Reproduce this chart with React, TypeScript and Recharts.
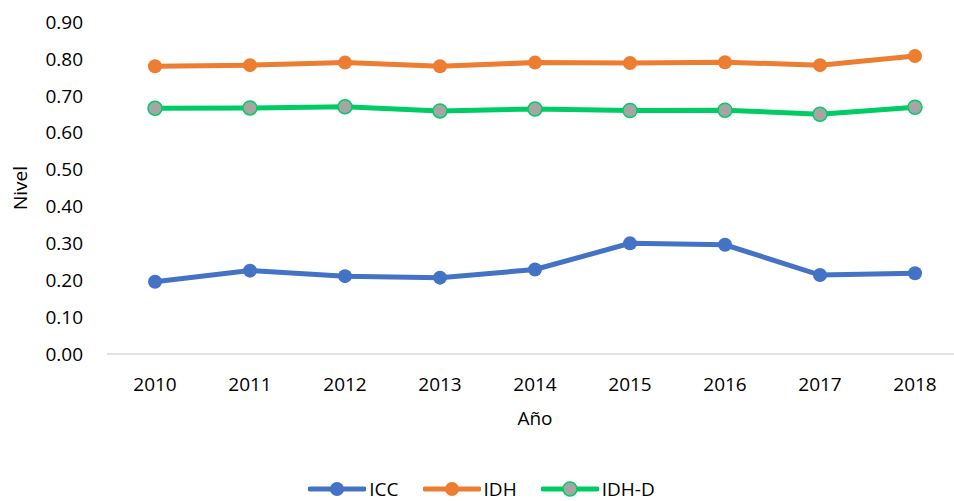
import { LineChart, Line, XAxis, YAxis, Legend } from "recharts";

const years = ["2010", "2011", "2012", "2013", "2014", "2015", "2016", "2017", "2018"];
const icc = [0.196, 0.226, 0.211, 0.207, 0.229, 0.3, 0.296, 0.214, 0.219];
const idh = [0.78, 0.783, 0.79, 0.78, 0.79, 0.789, 0.791, 0.783, 0.808];
const idhD = [0.666, 0.667, 0.67, 0.659, 0.664, 0.66, 0.661, 0.65, 0.669];
const yTicks = [0, 0.1, 0.2, 0.3, 0.4, 0.5, 0.6, 0.7, 0.8, 0.9];

const data = years.map((year, i) => ({
  year,
  ICC: icc[i],
  IDH: idh[i],
  "IDH-D": idhD[i]
}));

const FONT = "'Open Sans', sans-serif";

// eslint-disable-next-line @typescript-eslint/no-explicit-any
const renderLegend = (props: any) => {
  const items = props.payload || [];
  return (
    <div style={{ display: "flex", justifyContent: "center", alignItems: "center", gap: 24, height: 24, lineHeight: "24px", fontFamily: FONT, fontSize: 19, color: "#000" }}>
      {/* eslint-disable-next-line @typescript-eslint/no-explicit-any */}
      {items.map((item: any) => {
        const isD = item.value === "IDH-D";
        return (
          <div key={item.value} style={{ display: "flex", alignItems: "center" }}>
            <svg width={58} height={18} style={{ marginRight: 3 }}>
              <line x1={2} y1={9} x2={56} y2={9} stroke={item.color} strokeWidth={5} strokeLinecap="round" />
              <circle cx={29} cy={9} r={7} fill={isD ? "#A5A5A5" : item.color} stroke={item.color} strokeWidth={isD ? 1.5 : 0} />
            </svg>
            <span>{item.value}</span>
          </div>
        );
      })}
    </div>
  );
};

export default function App() {
  return (
    <div style={{ position: "absolute", left: 0, top: 0, width: 954, height: 501, overflow: "hidden", background: "#fff", fontFamily: FONT }}>
      <LineChart width={963} height={501} data={data} margin={{ top: 22, right: 0, bottom: 0, left: 0 }}>
        <XAxis
          dataKey="year"
          height={123}
          padding={{ left: 48, right: 48 }}
          axisLine={{ stroke: "#D9D9D9", strokeWidth: 1.5 }}
          tickLine={false}
          tickMargin={18}
          tick={{ fill: "#000", fontSize: 19 }}
          label={{ value: "Año", position: "insideTop", offset: 58, fill: "#000", fontSize: 19 }}
        />
        <YAxis
          width={107}
          domain={[0, 0.9]}
          ticks={yTicks}
          tickFormatter={(v: number) => v.toFixed(2)}
          axisLine={false}
          tickLine={false}
          tickMargin={18}
          tick={{ fill: "#000", fontSize: 19 }}
          label={{ value: "Nivel", angle: -90, position: "insideLeft", offset: 20, fill: "#000", fontSize: 19, style: { textAnchor: "middle" } }}
        />
        <Legend verticalAlign="bottom" height={24} content={renderLegend} />
        <Line type="linear" dataKey="ICC" stroke="#4472C4" strokeWidth={5} dot={{ r: 7, fill: "#4472C4", stroke: "#4472C4", strokeWidth: 0 }} activeDot={false} isAnimationActive={false} />
        <Line type="linear" dataKey="IDH" stroke="#ED7D31" strokeWidth={5} dot={{ r: 7, fill: "#ED7D31", stroke: "#ED7D31", strokeWidth: 0 }} activeDot={false} isAnimationActive={false} />
        <Line type="linear" dataKey="IDH-D" stroke="#00CC66" strokeWidth={5} dot={{ r: 7, fill: "#A5A5A5", stroke: "#00CC66", strokeWidth: 1.5 }} activeDot={false} isAnimationActive={false} />
      </LineChart>
    </div>
  );
}
